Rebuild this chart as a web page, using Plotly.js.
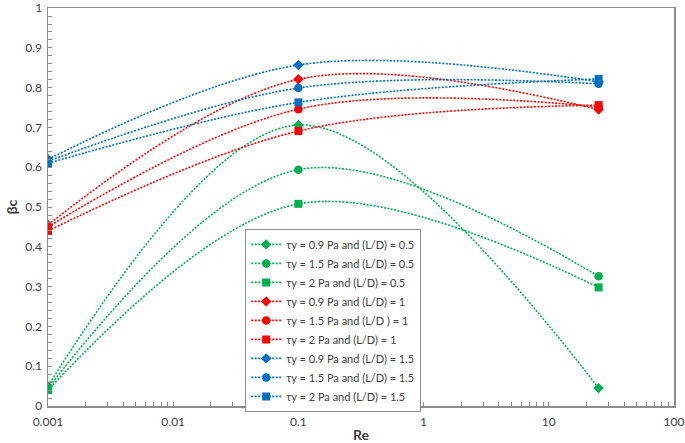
<!DOCTYPE html>
<html>
<head>
<meta charset="utf-8">
<script src="https://cdn.plot.ly/plotly-3.0.1.min.js"></script>
<style>html,body{margin:0;padding:0;background:#fff;}#chart{width:685px;height:443px;}</style>
</head>
<body>
<div id="chart"></div>
<script>
const reValues = [0.001, 0.1, 25];

const names = [
  "τy = 0.9 Pa and (L/D) = 0.5",
  "τy = 1.5 Pa and (L/D) = 0.5",
  "τy = 2 Pa and (L/D) = 0.5",
  "τy = 0.9 Pa and (L/D) = 1",
  "τy = 1.5 Pa and (L/D ) = 1",
  "τy = 2 Pa and (L/D) = 1",
  "τy = 0.9 Pa and (L/D) = 1.5",
  "τy = 1.5 Pa and (L/D) = 1.5",
  "τy = 2 Pa and (L/D) = 1.5"
];

const g09_05 = [0.050, 0.706, 0.045];
const g15_05 = [0.045, 0.594, 0.326];
const g20_05 = [0.040, 0.508, 0.298];
const r09_10 = [0.455, 0.821, 0.745];
const r15_10 = [0.450, 0.746, 0.752];
const r20_10 = [0.440, 0.691, 0.756];
const b09_15 = [0.620, 0.857, 0.815];
const b15_15 = [0.615, 0.799, 0.810];
const b20_15 = [0.610, 0.763, 0.822];

const seriesValues = [g09_05, g15_05, g20_05, r09_10, r15_10, r20_10, b09_15, b15_15, b20_15];

const xTickVals = [0.001, 0.01, 0.1, 1, 10, 100];
const xTickText = ["0.001", "0.01", "0.1", "1", "10", "100"];
const yTickVals = [0, 0.1, 0.2, 0.3, 0.4, 0.5, 0.6, 0.7, 0.8, 0.9, 1];
const yTickText = ["0", "0.1", "0.2", "0.3", "0.4", "0.5", "0.6", "0.7", "0.8", "0.9", "1"];

const colors = ["#00B050","#00B050","#00B050","#FF0000","#FF0000","#FF0000","#0070C0","#0070C0","#0070C0"];
const symbols = ["diamond","circle","square","diamond","circle","square","diamond","circle","square"];
const sizes = [8, 8.5, 8, 8, 8.5, 8, 8, 8.5, 8];

const traces = seriesValues.map((vals, i) => ({
  x: reValues,
  y: vals,
  name: names[i],
  type: "scatter",
  mode: "lines+markers",
  line: {color: colors[i], width: 1.6, dash: "2px,1.5px", shape: "spline", smoothing: 1},
  marker: {color: colors[i], symbol: symbols[i], size: sizes[i]}
}));

const fontFam = "Lato, 'Open Sans', sans-serif";

const layout = {
  width: 685, height: 443,
  margin: {l: 48, r: 11, t: 8, b: 37, pad: 0},
  paper_bgcolor: "#fff", plot_bgcolor: "#fff",
  font: {family: fontFam, size: 12, color: "#404040"},
  showlegend: true,
  legend: {
    x: 0.315, y: 0.445, xanchor: "left", yanchor: "top",
    bgcolor: "#fff", bordercolor: "#8c8c8c", borderwidth: 1,
    font: {family: fontFam, size: 11, color: "#404040"},
    tracegroupgap: 0, itemwidth: 30
  },
  xaxis: {
    type: "log", range: [-3, 2],
    tickvals: xTickVals, ticktext: xTickText,
    ticks: "inside", ticklen: 4, tickcolor: "#8c8c8c",
    minor: {ticks: "inside", ticklen: 4, tickcolor: "#8c8c8c", dtick: "D1", showgrid: false},
    showline: true, linecolor: "#8c8c8c", linewidth: 1.5, mirror: true,
    showgrid: false, zeroline: false,
    ticklabelstandoff: 4, ticklabeloverflow: "allow",
    tickfont: {size: 12, color: "#404040"},
    title: {text: "<b>Re</b>", font: {size: 14, color: "#404040"}, standoff: 4}
  },
  yaxis: {
    range: [0, 1.0002],
    tickvals: yTickVals, ticktext: yTickText,
    ticks: "inside", ticklen: 4, tickcolor: "#8c8c8c",
    minor: {ticks: "inside", ticklen: 4, tickcolor: "#8c8c8c", dtick: 0.02, showgrid: false},
    showline: true, linecolor: "#8c8c8c", linewidth: 1.5, mirror: true,
    showgrid: false, zeroline: false,
    ticklabelstandoff: 2, ticklabeloverflow: "allow",
    tickfont: {size: 12, color: "#404040"},
    title: {text: "<b>βc</b>", font: {size: 14, color: "#404040"}, standoff: 4}
  }
};

Plotly.newPlot("chart", traces, layout, {displayModeBar: false, staticPlot: true});
</script>
</body>
</html>
